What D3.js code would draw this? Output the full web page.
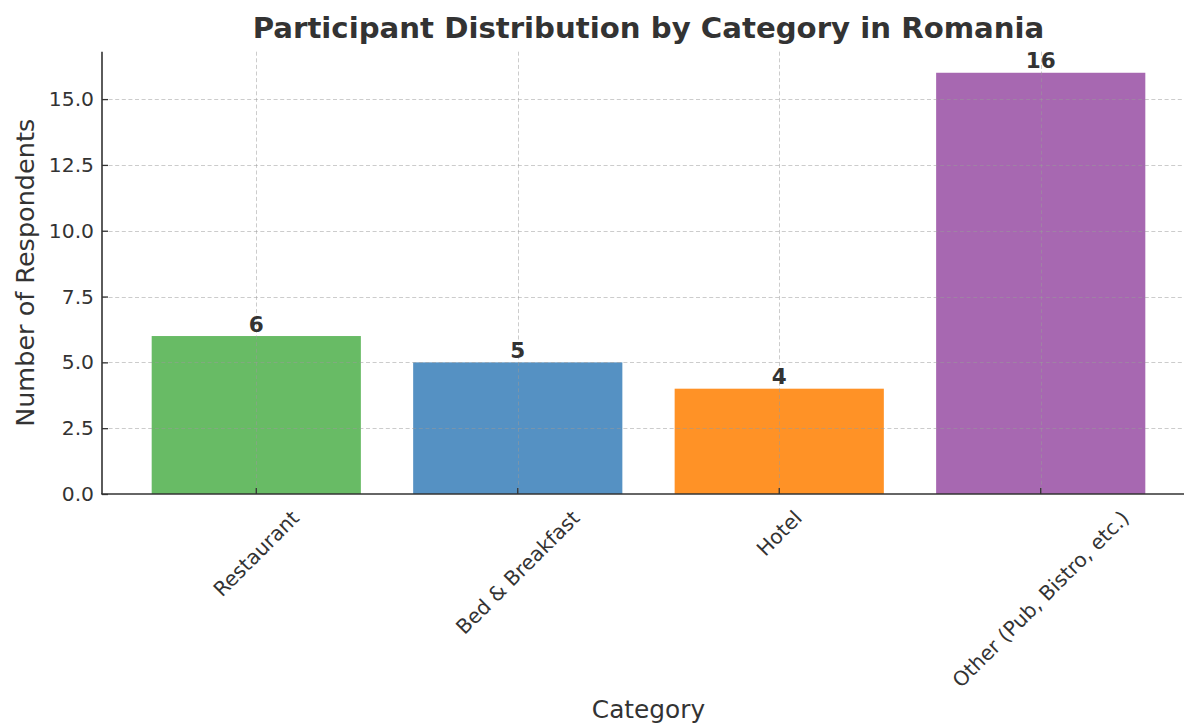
<!DOCTYPE html>
<html>
<head>
<meta charset="utf-8">
<script src="https://cdn.jsdelivr.net/npm/d3@7"></script>
<style>
  html, body { margin: 0; padding: 0; background: #fff; }
  svg { display: block; font-family: "DejaVu Sans", sans-serif; }
</style>
</head>
<body>
<svg id="chart" width="1184" height="725"></svg>
<script>
// Survey counts per venue category
const categories = ["Restaurant", "Bed & Breakfast", "Hotel", "Other (Pub, Bistro, etc.)"];
const respondents = [6, 5, 4, 16];
const barColors = ["#4daf4a", "#377eb8", "#ff7f00", "#984ea3"];
const yTicks = [0, 2.5, 5, 7.5, 10, 12.5, 15];

const W = 1184, H = 725;
const plot = { left: 102, right: 1195, top: 51.7, bottom: 494 };
const ink = "#333333";
const tickFont = 20.3;

const svg = d3.select("#chart");

const x = d3.scaleBand()
  .domain(categories)
  .range([plot.left, plot.right])
  .paddingInner(0.2)
  .paddingOuter(0.19);

const y = d3.scaleLinear()
  .domain([0, 16.8])
  .range([plot.bottom, plot.top]);

// Bars
svg.append("g").selectAll("rect")
  .data(categories)
  .join("rect")
  .attr("x", d => x(d))
  .attr("width", x.bandwidth())
  .attr("y", (d, i) => y(respondents[i]))
  .attr("height", (d, i) => y(0) - y(respondents[i]))
  .attr("fill", (d, i) => barColors[i])
  .attr("fill-opacity", 0.85);

// Dashed grid drawn over the bars
const grid = svg.append("g")
  .attr("stroke", "#999")
  .attr("stroke-opacity", 0.5)
  .attr("stroke-width", 1)
  .attr("stroke-dasharray", "4,2.6");
grid.selectAll("line.h")
  .data(yTicks.filter(t => t > 0))
  .join("line")
  .attr("class", "h")
  .attr("x1", plot.left).attr("x2", plot.right)
  .attr("y1", d => Math.round(y(d)) + 0.5).attr("y2", d => Math.round(y(d)) + 0.5);
grid.selectAll("line.v")
  .data(categories)
  .join("line")
  .attr("class", "v")
  .attr("x1", d => Math.round(x(d) + x.bandwidth() / 2) + 0.5)
  .attr("x2", d => Math.round(x(d) + x.bandwidth() / 2) + 0.5)
  .attr("y1", plot.top).attr("y2", plot.bottom);

// Value labels above bars
svg.append("g").selectAll("text")
  .data(categories)
  .join("text")
  .attr("x", d => x(d) + x.bandwidth() / 2)
  .attr("y", (d, i) => y(respondents[i]) - 4.5)
  .attr("text-anchor", "middle")
  .attr("font-size", 21.5)
  .attr("font-weight", "bold")
  .attr("fill", ink)
  .text((d, i) => respondents[i]);

// Y axis with inward ticks
const yAxis = svg.append("g")
  .attr("transform", `translate(${plot.left},0)`)
  .call(d3.axisLeft(y).tickValues(yTicks).tickFormat(d3.format(".1f")).tickSizeInner(-6).tickSizeOuter(0).tickPadding(8));
yAxis.select(".domain").remove();
yAxis.selectAll(".tick line").attr("stroke", ink).attr("stroke-width", 1.3);
yAxis.selectAll(".tick text")
  .attr("font-size", tickFont)
  .attr("font-family", "DejaVu Sans")
  .attr("fill", ink);

// X axis with inward ticks and rotated labels
const xAxis = svg.append("g")
  .attr("transform", `translate(0,${plot.bottom})`)
  .call(d3.axisBottom(x).tickSizeInner(-6).tickSizeOuter(0).tickFormat(""));
xAxis.select(".domain").remove();
xAxis.selectAll(".tick line").attr("stroke", ink).attr("stroke-width", 1.3);

const xLabels = svg.append("g").selectAll("text")
  .data(categories)
  .join("text")
  .attr("font-size", tickFont)
  .attr("fill", ink)
  .attr("text-anchor", "middle")
  .attr("dominant-baseline", "central")
  .text(d => d);
xLabels.each(function(d) {
  const L = this.getComputedTextLength();
  const h = tickFont * 1.16;
  const half = (L + h) * Math.SQRT1_2 / 2;
  const cx = x(d) + x.bandwidth() / 2;
  const cy = 506 + half;
  d3.select(this).attr("transform", `translate(${cx},${cy}) rotate(-45)`);
});

// Spines (left and bottom)
svg.append("line")
  .attr("x1", plot.left).attr("x2", plot.left)
  .attr("y1", plot.top).attr("y2", plot.bottom)
  .attr("stroke", ink).attr("stroke-width", 1.6);
svg.append("line")
  .attr("x1", plot.left - 0.8).attr("x2", plot.right)
  .attr("y1", plot.bottom).attr("y2", plot.bottom)
  .attr("stroke", ink).attr("stroke-width", 1.6);

// Axis titles
svg.append("text")
  .attr("transform", `translate(34,${(plot.top + plot.bottom) / 2}) rotate(-90)`)
  .attr("text-anchor", "middle")
  .attr("font-size", 25.5)
  .attr("fill", ink)
  .text("Number of Respondents");

svg.append("text")
  .attr("x", (plot.left + plot.right) / 2)
  .attr("y", 718)
  .attr("text-anchor", "middle")
  .attr("font-size", 24.8)
  .attr("fill", ink)
  .text("Category");

// Chart title
svg.append("text")
  .attr("x", (plot.left + plot.right) / 2)
  .attr("y", 38)
  .attr("text-anchor", "middle")
  .attr("font-size", 29.2)
  .attr("font-weight", "bold")
  .attr("fill", ink)
  .text("Participant Distribution by Category in Romania");
</script>
</body>
</html>
